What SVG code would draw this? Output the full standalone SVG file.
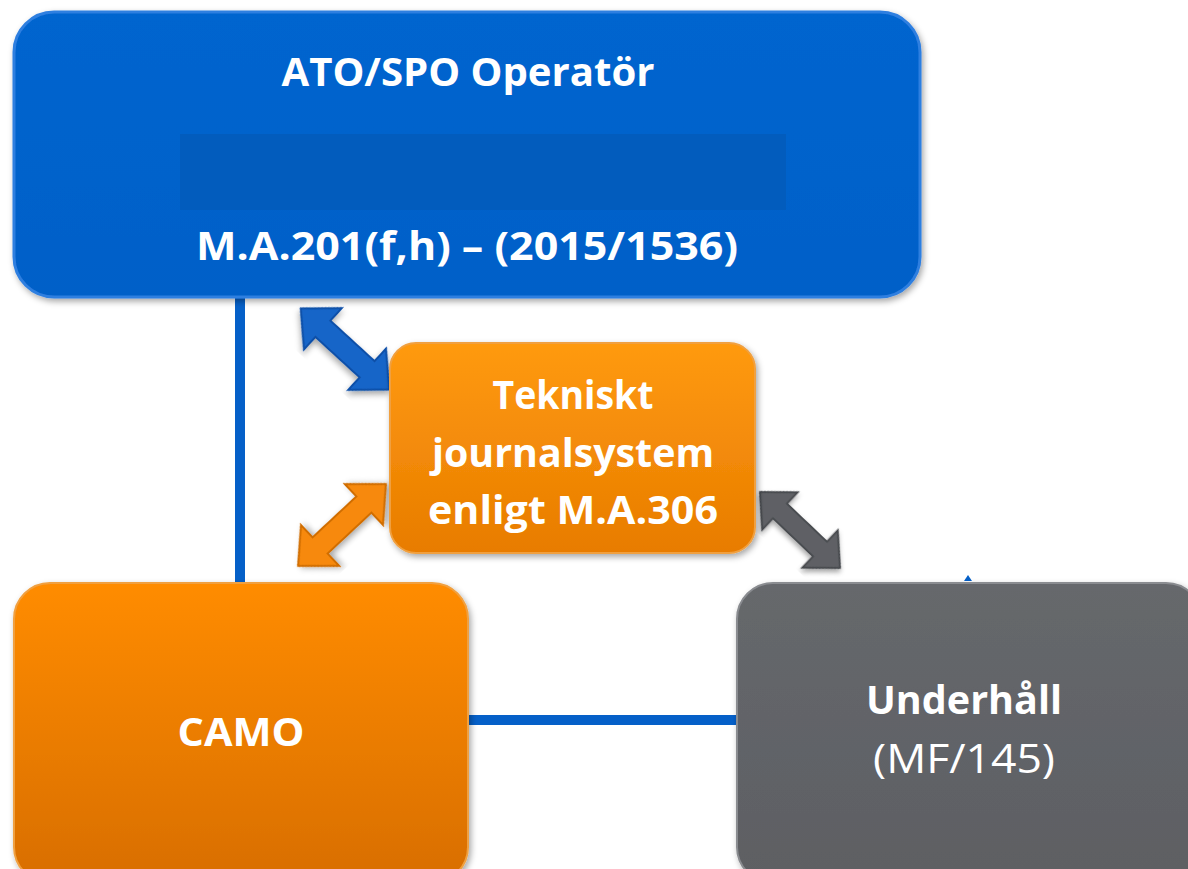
<svg xmlns="http://www.w3.org/2000/svg" width="1188" height="869" viewBox="0 0 1188 869">
<style>
.t{font-family:"Open Sans","Noto Sans","Liberation Sans",sans-serif;fill:#fff;text-anchor:middle;font-weight:bold;font-size:40px}
.r{font-weight:normal}
</style>
<defs>
<linearGradient id="gBlue" x1="0" y1="0" x2="0" y2="1"><stop offset="0" stop-color="#0565cf"/><stop offset="1" stop-color="#0560c8"/></linearGradient>
<linearGradient id="gOr" x1="0" y1="0" x2="0" y2="1"><stop offset="0" stop-color="#ff9a10"/><stop offset="1" stop-color="#e87c00"/></linearGradient>
<linearGradient id="gCamo" x1="0" y1="0" x2="0" y2="1"><stop offset="0" stop-color="#ff8c05"/><stop offset="1" stop-color="#d86e00"/></linearGradient>
<linearGradient id="gGray" x1="0" y1="0" x2="0" y2="1"><stop offset="0" stop-color="#66686c"/><stop offset="1" stop-color="#5d5f63"/></linearGradient>
<filter id="sh" x="-10%" y="-10%" width="120%" height="120%"><feDropShadow dx="2" dy="3" stdDeviation="3" flood-color="#000" flood-opacity="0.35"/></filter>
<path id="dbl" d="M-60,0 L-30,-28 L-30,-11 L30,-11 L30,-28 L60,0 L30,28 L30,11 L-30,11 L-30,28 Z"/>
</defs>
<rect width="1188" height="869" fill="#fff"/>
<g id="connectors">
<line x1="240" y1="290" x2="240" y2="590" stroke="#0560c8" stroke-width="10"/>
<line x1="460" y1="720" x2="745" y2="720" stroke="#0560c8" stroke-width="10"/>
<polygon points="964,581 968,575 972,581" fill="#0560c8"/>
<use href="#dbl" fill="#1565c8" stroke="#0a4fa8" stroke-width="2" filter="url(#sh)" transform="translate(345,349) rotate(42.5)"/>
<use href="#dbl" fill="#f7890c" stroke="#d06d00" stroke-width="2" filter="url(#sh)" transform="translate(342,525) rotate(-43)"/>
<use href="#dbl" fill="#5f6165" stroke="#474a4e" stroke-width="2" filter="url(#sh)" transform="translate(800,530) rotate(43.5) scale(0.92)"/>
</g>
<g id="ato">
<rect x="14" y="12" width="906" height="285" rx="40" fill="url(#gBlue)" stroke="#2f7fe0" stroke-width="3" filter="url(#sh)"/>
<rect x="180" y="134" width="606" height="76" fill="#025cbd"/>
<text class="t" x="468" y="86" textLength="373" lengthAdjust="spacingAndGlyphs">ATO/SPO Operatör</text>
<text class="t" x="467" y="260" textLength="542" lengthAdjust="spacingAndGlyphs">M.A.201(f,h) – (2015/1536)</text>
</g>
<g id="tekniskt">
<rect x="390" y="343" width="365" height="210" rx="26" fill="url(#gOr)" stroke="#f0a040" stroke-width="2" filter="url(#sh)"/>
<text class="t" x="573" y="409" textLength="161" lengthAdjust="spacingAndGlyphs">Tekniskt</text>
<text class="t" x="573" y="467" textLength="282" lengthAdjust="spacingAndGlyphs">journalsystem</text>
<text class="t" x="573" y="524" textLength="290" lengthAdjust="spacingAndGlyphs">enligt M.A.306</text>
</g>
<g id="camo">
<rect x="14" y="583" width="454" height="300" rx="36" fill="url(#gCamo)" stroke="#f0a040" stroke-width="2" filter="url(#sh)"/>
<text class="t" x="241" y="746" textLength="127" lengthAdjust="spacingAndGlyphs">CAMO</text>
</g>
<g id="underhall">
<rect x="737" y="583" width="465" height="300" rx="36" fill="url(#gGray)" stroke="#8a8c90" stroke-width="2" filter="url(#sh)"/>
<text class="t" x="964" y="714" textLength="196" lengthAdjust="spacingAndGlyphs">Underhåll</text>
<text class="t r" x="964" y="773" textLength="182" lengthAdjust="spacingAndGlyphs">(MF/145)</text>
</g>
</svg>
